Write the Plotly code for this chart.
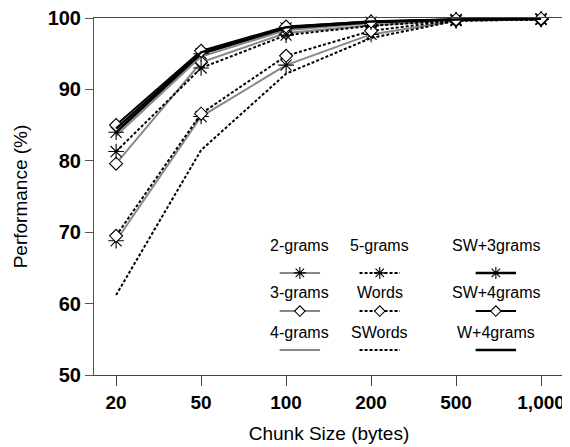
import plotly.graph_objects as go

categories = ["20", "50", "100", "200", "500", "1,000"]

names = ["2-grams", "3-grams", "4-grams", "5-grams", "Words", "SWords",
         "SW+3grams", "SW+4grams", "W+4grams"]

v_2grams = [68.8, 86.2, 93.4, 97.7, 99.6, 99.8]
v_3grams = [79.6, 93.8, 97.9, 99.0, 99.7, 99.8]
v_4grams = [83.5, 94.6, 98.3, 99.3, 99.8, 99.9]
v_5grams = [81.3, 93.0, 97.6, 98.9, 99.7, 99.8]
v_words = [69.5, 86.6, 94.7, 98.2, 99.7, 99.8]
v_swords = [61.2, 81.5, 92.2, 97.2, 99.6, 99.8]
v_sw3 = [84.0, 95.0, 98.6, 99.4, 99.8, 99.9]
v_sw4 = [85.0, 95.4, 98.8, 99.5, 99.8, 99.9]
v_w4 = [84.5, 95.2, 98.7, 99.5, 99.8, 99.9]

values = [v_2grams, v_3grams, v_4grams, v_5grams, v_words, v_swords, v_sw3, v_sw4, v_w4]

GREY = "#888888"
BLACK = "#000000"
DOT = "3px,2px"
FONT = "Liberation Sans, Arial"
styles = [
    dict(color=GREY, width=2, dash="solid", symbol="asterisk-open"),
    dict(color=GREY, width=2, dash="solid", symbol="diamond"),
    dict(color=GREY, width=2, dash="solid", symbol=None),
    dict(color=BLACK, width=2, dash=DOT, symbol="asterisk-open"),
    dict(color=BLACK, width=2, dash=DOT, symbol="diamond"),
    dict(color=BLACK, width=2, dash=DOT, symbol=None),
    dict(color=BLACK, width=2.5, dash="solid", symbol="asterisk-open"),
    dict(color=BLACK, width=2, dash="solid", symbol="diamond"),
    dict(color=BLACK, width=2.5, dash="solid", symbol=None),
]


def marker_for(sym, small=False):
    if sym == "diamond":
        return dict(symbol="diamond", size=8 if small else 10, color="white",
                    line=dict(color=BLACK, width=1.1))
    return dict(symbol=sym, size=10 if small else 13, color=BLACK, line=dict(color=BLACK, width=1.1))


fig = go.Figure()


def add(xs, ys, st, xa="x", ya="y"):
    mode = "lines+markers" if st["symbol"] else "lines"
    kw = dict(x=xs, y=ys, mode=mode, showlegend=False, hoverinfo="skip",
              xaxis=xa, yaxis=ya, cliponaxis=False,
              line=dict(color=st["color"], width=st["width"], dash=st["dash"]))
    if st["symbol"]:
        kw["marker"] = marker_for(st["symbol"])
    fig.add_trace(go.Scatter(**kw))


for vals, st in zip(values, styles):
    add(categories, vals, st)

# Custom legend (text above sample line), drawn on overlay axes in [0,1]
col_x = [0.438, 0.608, 0.855]
line_y = [0.286, 0.179, 0.070]
text_y = [0.364, 0.232, 0.120]
half = 0.043
for i, (nm, st) in enumerate(zip(names, styles)):
    c, r = i // 3, i % 3
    cx = col_x[c]
    add([cx - half, cx + half], [line_y[r]] * 2, dict(st, symbol=None), xa="x2", ya="y2")
    if st["symbol"]:
        fig.add_trace(go.Scatter(x=[cx], y=[line_y[r]], mode="markers", showlegend=False,
                                 hoverinfo="skip", xaxis="x2", yaxis="y2",
                                 marker=marker_for(st["symbol"], small=True)))
    fig.add_annotation(x=cx, y=text_y[r], xref="x2", yref="y2", text=nm,
                       showarrow=False, font=dict(family=FONT, size=16, color="black"))

fig.update_layout(
    width=562, height=439,
    margin=dict(l=86, r=6, t=10, b=72),
    plot_bgcolor="white", paper_bgcolor="white",
    font=dict(family=FONT, color="black"),
    xaxis=dict(type="category", range=[-0.26, 5.27], showgrid=False, zeroline=False,
               showline=True, linecolor="#444", linewidth=1, mirror=True,
               ticks="outside", ticklen=10, tickcolor="#444", automargin=False,
               ticklabeloverflow="allow",
               tickfont=dict(size=19, family=FONT, weight="bold"),
               title=dict(text="Chunk Size (bytes)", font=dict(size=19), standoff=14)),
    yaxis=dict(range=[50, 100], tickvals=[50, 60, 70, 80, 90, 100], showgrid=False,
               zeroline=False, showline=True, linecolor="#555", linewidth=1, mirror=True,
               ticks="outside", ticklen=8, tickcolor="#555", automargin=False,
               ticklabeloverflow="allow",
               tickfont=dict(size=20, family=FONT, weight="bold"),
               title=dict(text="Performance (%)", font=dict(size=19), standoff=14)),
    xaxis2=dict(overlaying="x", range=[0, 1], visible=False, anchor="y2"),
    yaxis2=dict(overlaying="y", range=[0, 1], visible=False, anchor="x2"),
)

fig.write_html("out.html")
